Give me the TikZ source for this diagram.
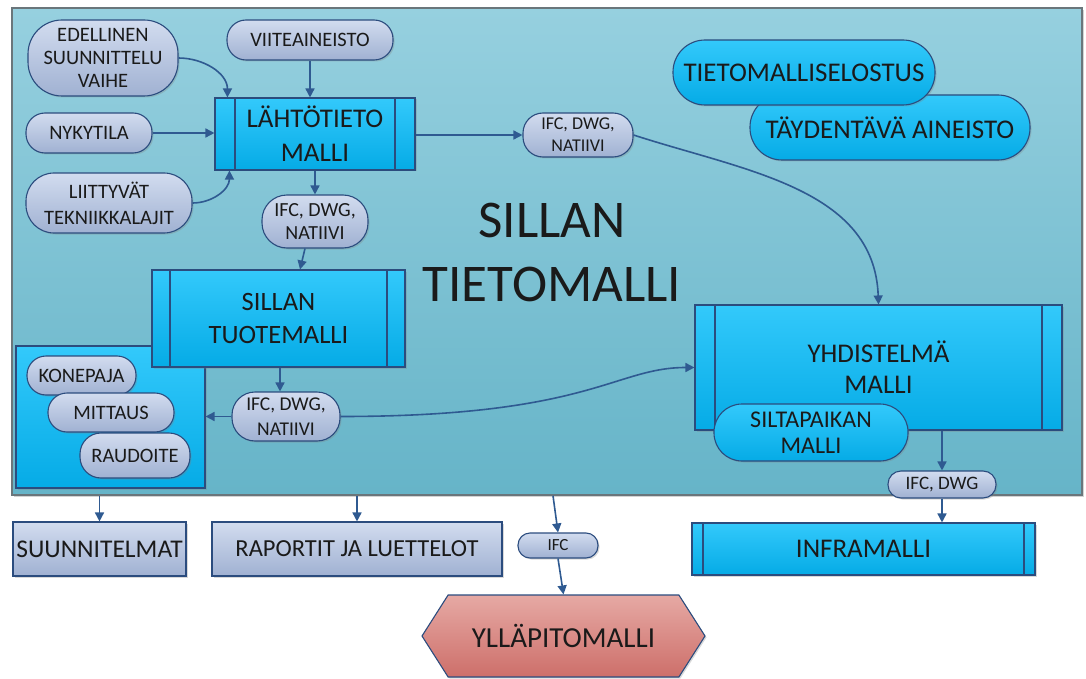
\documentclass[tikz,border=0pt]{standalone}
\usepackage{fontspec}
\setmainfont{Carlito}
\usetikzlibrary{shapes.symbols,shadows,arrows.meta}
\definecolor{frameT}{HTML}{96D0DF}
\definecolor{frameB}{HTML}{66B4C8}
\definecolor{frameD}{HTML}{6A767B}
\definecolor{bluT}{HTML}{33C9FB}
\definecolor{bluB}{HTML}{05ABE6}
\definecolor{gryT}{HTML}{D2DCEF}
\definecolor{gryB}{HTML}{A0B1D2}
\definecolor{bord}{HTML}{2B4C7E}
\definecolor{arr}{HTML}{2F5A91}
\definecolor{redT}{HTML}{E6A9A4}
\definecolor{redB}{HTML}{CD6F6A}
\definecolor{txt}{HTML}{1A1A1A}
\tikzset{
  base/.style={draw=bord, line width=1.1pt, inner sep=0pt, align=center, text=txt,
    drop shadow={opacity=0.3, shadow xshift=1.5pt, shadow yshift=-1.5pt}},
  gpill/.style={base, rectangle, rounded corners=#1, top color=gryT, bottom color=gryB},
  bpill/.style={base, rectangle, rounded corners=#1, top color=bluT, bottom color=bluB},
  grect/.style={base, rectangle, top color=gryT, bottom color=gryB},
  proc/.style={base, rectangle, top color=bluT, bottom color=bluB,
    path picture={\draw[bord, line width=1.1pt]
      ([xshift=#1]path picture bounding box.north west) -- ([xshift=#1]path picture bounding box.south west)
      ([xshift=-#1]path picture bounding box.north east) -- ([xshift=-#1]path picture bounding box.south east);}},
  fs/.style 2 args={font=\fontsize{#1}{#2}\selectfont},
  arrow/.style={draw=arr, line width=1.6pt, -{Triangle[length=9pt,width=9pt]}},
}
\begin{document}
\begin{tikzpicture}[x=1pt, y=-1pt]
\useasboundingbox (0,0) rectangle (1086,679);
% frame
\node[draw=frameD, line width=1.5pt, top color=frameT, bottom color=frameB, minimum width=1070pt, minimum height=487pt, inner sep=0pt,
  drop shadow={opacity=0.35, shadow xshift=2pt, shadow yshift=-2pt}] (fr) at (547,251.5) {};
% big title
\node[text=txt, align=center, font=\fontsize{53}{64}\selectfont] (title) at (552,252) {SILLAN\\TIETOMALLI};
% inputs
\node[gpill=34pt, fs={20.5}{23}, minimum width=150pt, minimum height=76pt] (ed) at (103,58) {EDELLINEN\\SUUNNITTELU\\VAIHE};
\node[gpill=19pt, fs={20.5}{23}, minimum width=166pt, minimum height=40pt] (vi) at (310,40) {VIITEAINEISTO};
\node[gpill=19pt, fs={20.5}{23}, minimum width=126pt, minimum height=40pt] (ny) at (89,133) {NYKYTILA};
\node[gpill=28pt, fs={20.5}{26}, minimum width=166pt, minimum height=60pt] (li) at (109,203) {LIITTYVÄT\\TEKNIIKKALAJIT};
\node[proc=20pt, fs={27}{34}, minimum width=200pt, minimum height=72pt] (lt) at (315,134) {LÄHTÖTIETO\\MALLI};
\node[gpill=25pt, fs={20}{23.5}, minimum width=106pt, minimum height=53pt] (i1) at (315,221.5) {IFC, DWG,\\NATIIVI};
\node[gpill=20pt, fs={18}{22}, minimum width=110pt, minimum height=44pt] (i2) at (578,135) {IFC, DWG,\\NATIIVI};
\node[bpill=32pt, fs={27}{30}, minimum width=280pt, minimum height=65pt] (ta) at (890,127.5) {TÄYDENTÄVÄ AINEISTO};
\node[bpill=32pt, fs={27}{30}, minimum width=262pt, minimum height=65pt] (tm) at (804,72.5) {TIETOMALLISELOSTUS};
% left group
\node[base, rectangle, top color=bluT, bottom color=bluB, minimum width=189pt, minimum height=142pt] (lb) at (110.5,417) {};
\node[proc=18pt, fs={26.5}{33}, minimum width=253pt, minimum height=97pt] (st) at (278.5,318.5) {SILLAN\\TUOTEMALLI};
\node[gpill=19pt, fs={20.5}{23}, minimum width=109pt, minimum height=39pt] (ko) at (81.5,375.5) {KONEPAJA};
\node[gpill=19pt, fs={20.5}{23}, minimum width=126pt, minimum height=39pt] (mi) at (111,412.5) {MITTAUS};
\node[gpill=21pt, fs={20.5}{23}, minimum width=110pt, minimum height=45pt] (ra) at (135,455.5) {RAUDOITE};
\node[gpill=23pt, fs={19.5}{25}, minimum width=108pt, minimum height=49pt] (i3) at (286,416.5) {IFC, DWG,\\NATIIVI};
% right group
\node[proc=20pt, fs={27}{31}, minimum width=367pt, minimum height=125pt] (yh) at (878.5,367.5) {YHDISTELMÄ\\MALLI};
\node[bpill=28pt, fs={24}{26}, minimum width=194pt, minimum height=57pt] (sp) at (811,432.5) {SILTAPAIKAN\\MALLI};
\node[gpill=13pt, fs={19}{20}, minimum width=108pt, minimum height=27pt] (id) at (942,484.5) {IFC, DWG};
% outputs
\node[grect, fs={25.5}{28}, minimum width=173pt, minimum height=54pt] (su) at (99.5,549) {SUUNNITELMAT};
\node[grect, fs={24.5}{28}, minimum width=290pt, minimum height=54pt] (rl) at (357,549) {RAPORTIT JA LUETTELOT};
\node[gpill=12pt, fs={17}{18}, minimum width=80pt, minimum height=25pt] (is) at (558,545.5) {IFC};
\node[proc=11pt, fs={27}{28}, minimum width=343pt, minimum height=52pt] (inf) at (863.5,549) {INFRAMALLI};
\node[base, signal, signal to=west and east, signal pointer angle=115, top color=redT, bottom color=redB,
  fs={29}{30}, minimum width=283pt, minimum height=82pt] (yp) at (563.5,636) {YLLÄPITOMALLI};
% connectors
\draw[arrow] (ed.east) to[out=0, in=90] ([xshift=13pt]lt.north west);
\draw[arrow] (vi.south) -- (vi.south |- lt.north);
\draw[arrow] (ny.east) -- (ny.east -| lt.west);
\draw[arrow] (li.east) to[out=0, in=-90] ([xshift=15pt]lt.south west);
\draw[arrow] (lt.south) -- (i1.north);
\draw[arrow] (lt.east |- i2.west) -- (i2.west);
\draw[arrow] (i2.east) to[out=-18, in=92] (yh.north);
\draw[arrow] ([xshift=-10pt]i1.south) -- ([xshift=-15pt]i1.south |- st.north);
\draw[arrow] ([xshift=-6pt]i3.north |- st.south) -- ([xshift=-6pt]i3.north);
\draw[arrow] (i3.west) -- (i3.west -| lb.east);
\draw[arrow] (i3.east) .. controls +(250,0) and +(-80,0) .. (yh.west);
\draw[arrow] (yh.south -| id.north) -- (id.north);
\draw[arrow] (id.south) -- (id.south |- inf.north);
\draw[arrow] (fr.south -| su.north) -- (su.north);
\draw[arrow] (fr.south -| rl.north) -- (rl.north);
\draw[arrow] ([xshift=-5pt]fr.south -| is.north) -- (is.north);
\draw[arrow] (is.south) -- (yp.north);
\end{tikzpicture}
\end{document}
